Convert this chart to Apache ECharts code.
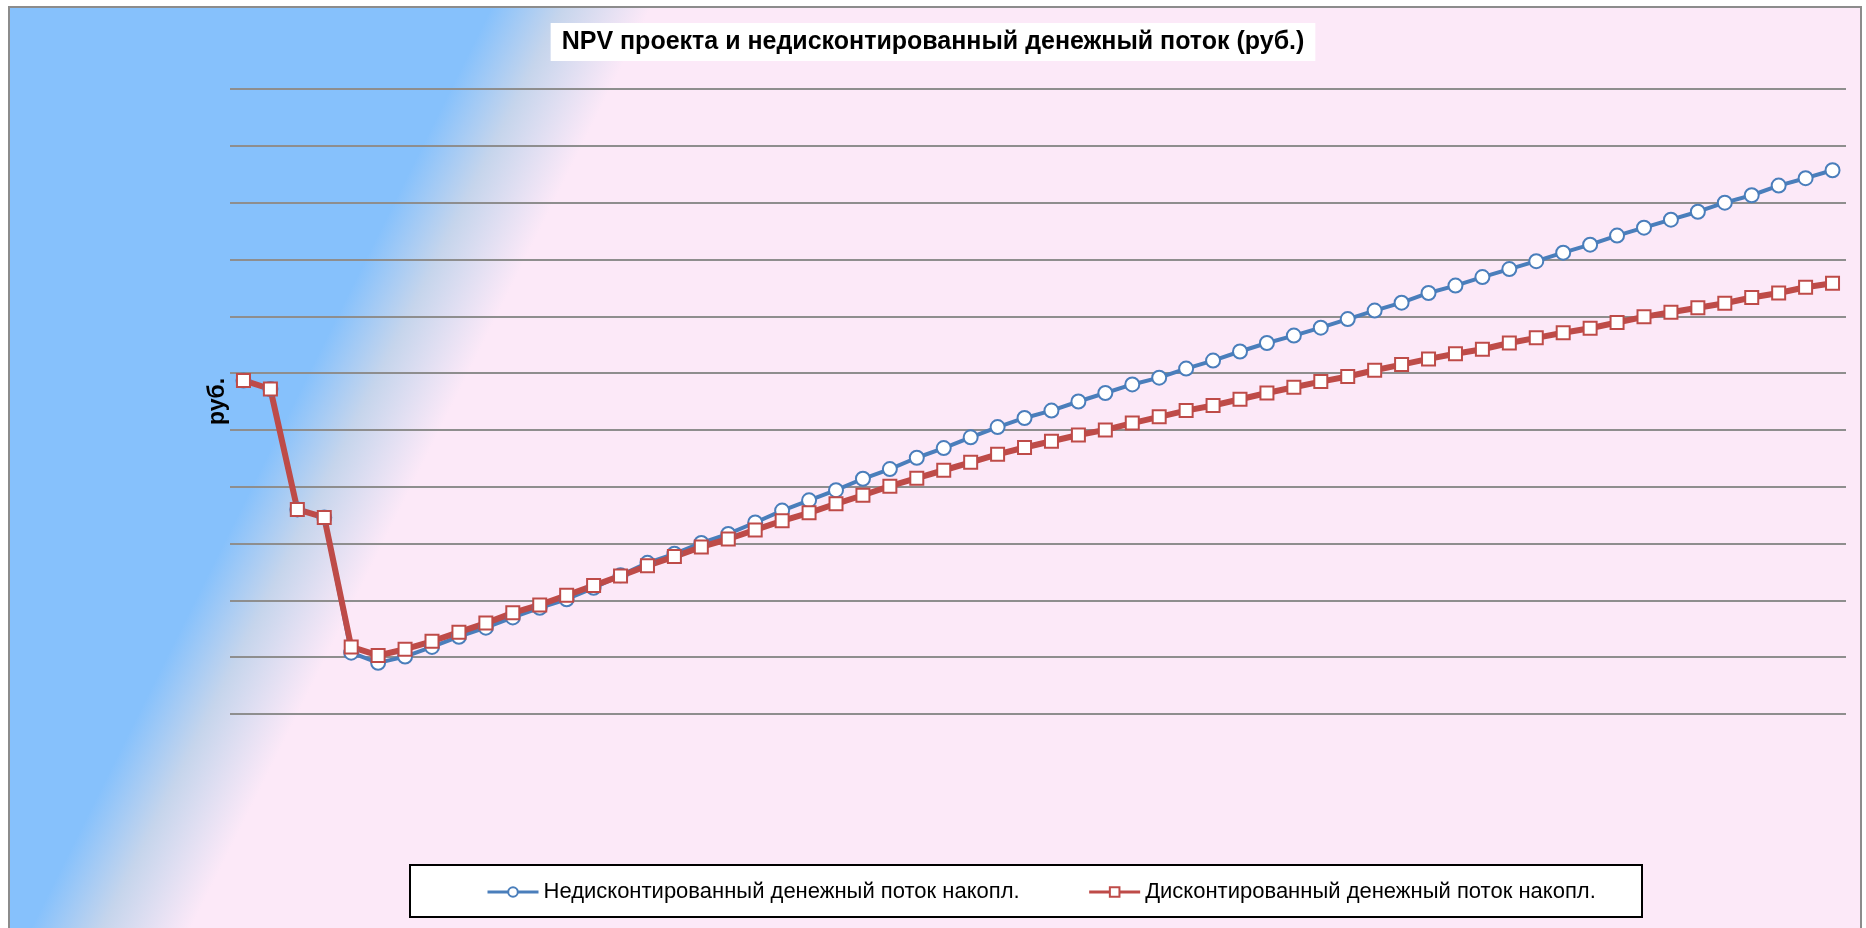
<!DOCTYPE html>
<html>
<head>
<meta charset="utf-8">
<title>NPV проекта</title>
<script src="https://cdn.jsdelivr.net/npm/echarts@6.0.0/dist/echarts.min.js"></script>
<style>
  html, body { margin: 0; padding: 0; background: #fff; }
  .diagram { width: 1866px; height: 928px; }
</style>
</head>
<body>
<div class="diagram"></div>
<script>
// периоды (месяцы) проекта
let periods = [
  '0', '1', '2', '3', '4', '5', '6', '7', '8', '9',
  '10', '11', '12', '13', '14', '15', '16', '17', '18', '19',
  '20', '21', '22', '23', '24', '25', '26', '27', '28', '29',
  '30', '31', '32', '33', '34', '35', '36', '37', '38', '39',
  '40', '41', '42', '43', '44', '45', '46', '47', '48', '49',
  '50', '51', '52', '53', '54', '55', '56', '57', '58', '59'
];

// недисконтированный денежный поток накопл., тыс. руб.
let cashFlow = [
  -13, -28, -240, -254, -492, -510, -499, -482, -464, -448,
  -430, -413, -398, -378, -356, -334, -318, -299, -283, -263,
  -242, -224, -206, -186, -169, -149, -132, -113, -95, -79,
  -66, -50, -35, -20, -8, 8, 22, 38, 53, 66,
  80, 95, 110, 124, 141, 154, 169, 183, 197, 212,
  226, 242, 256, 270, 284, 300, 313, 330, 343, 357
];

// дисконтированный денежный поток накопл. (NPV), тыс. руб.
let npv = [
  -13, -28, -240, -254, -482, -497, -486, -472, -456, -440,
  -422, -408, -391, -374, -357, -339, -323, -306, -292, -276,
  -260, -246, -230, -215, -199, -185, -171, -157, -143, -131,
  -120, -109, -100, -88, -77, -66, -57, -46, -35, -25,
  -15, -6, 5, 15, 25, 34, 42, 53, 62, 71,
  79, 89, 99, 107, 115, 123, 133, 141, 151, 158
];

let yMin = -600,
    yMax = 500,
    yStep = 100;

let names = [
  'Недисконтированный денежный поток накопл.',
  'Дисконтированный денежный поток накопл.'
];

let font = 'Liberation Sans, Arial, sans-serif';
let chart = echarts.init(document.querySelector('.diagram'));

let option = {
  backgroundColor: '#fff',
  animation: false,
  title: {
    text: 'NPV проекта и недисконтированный денежный поток (руб.)',
    left: 'center',
    top: 23,
    backgroundColor: '#fff',
    padding: [7, 11, 6, 11],
    textStyle: {
      fontFamily: font,
      fontSize: 25,
      fontWeight: 'bold',
      color: '#000'
    }
  },
  graphic: [
    {
      // фон диаграммы с рамкой
      type: 'rect',
      z: -10,
      silent: true,
      shape: { x: 9, y: 7, width: 1852, height: 940 },
      style: {
        fill: {
          type: 'linear',
          x: 396, y: 198, x2: 524, y2: 262,
          global: true,
          colorStops: [
            { offset: 0, color: '#86c1fc' },
            { offset: 0.45, color: '#c6d5ec' },
            { offset: 1, color: '#fce9f8' }
          ]
        },
        stroke: '#8c8c8c',
        lineWidth: 2
      }
    },
    {
      // рамка легенды
      type: 'rect',
      z: -5,
      silent: true,
      shape: { x: 410, y: 865, width: 1232, height: 52 },
      style: { fill: '#fff', stroke: '#000', lineWidth: 2 }
    }
  ],
  legend: {
    data: names,
    left: 486,
    top: 881,
    padding: 0,
    itemGap: 68,
    itemWidth: 51,
    itemHeight: 12,
    lineStyle: { width: 3 },
    textStyle: {
      fontFamily: font,
      fontSize: 22,
      color: '#000'
    }
  },
  grid: {
    left: 230,
    right: 20,
    top: 89,
    bottom: 214
  },
  xAxis: {
    type: 'category',
    data: periods,
    boundaryGap: true,
    axisLine: { show: false },
    axisTick: { show: false },
    axisLabel: { show: false },
    splitLine: { show: false }
  },
  yAxis: {
    type: 'value',
    min: yMin,
    max: yMax,
    interval: yStep,
    name: 'руб.',
    nameLocation: 'middle',
    nameGap: 1,
    nameTextStyle: {
      fontFamily: font,
      fontSize: 23,
      fontWeight: 'bold',
      color: '#000'
    },
    axisLine: { show: false },
    axisTick: { show: false },
    axisLabel: { show: false },
    splitLine: {
      lineStyle: { color: '#8e8e8e', width: 2 }
    }
  },
  series: [
    {
      name: names[0],
      type: 'line',
      data: cashFlow,
      symbol: 'circle',
      symbolSize: 14,
      lineStyle: { color: '#4a7ebb', width: 4 },
      itemStyle: { color: '#fff', borderColor: '#4a7ebb', borderWidth: 2 }
    },
    {
      name: names[1],
      type: 'line',
      data: npv,
      symbol: 'rect',
      symbolSize: 13,
      lineStyle: { color: '#be4b48', width: 6 },
      itemStyle: { color: '#fff', borderColor: '#be4b48', borderWidth: 2 }
    }
  ]
};

chart.setOption(option, true);
</script>
</body>
</html>
